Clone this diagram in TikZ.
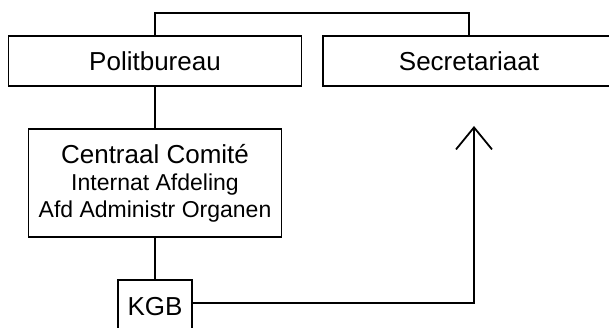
\documentclass[tikz,border=0pt]{standalone}
\usepackage{fontspec}
\setmainfont{Liberation Sans}
\usetikzlibrary{arrows.meta}
\begin{document}
\begin{tikzpicture}[x=1pt,y=-1pt,line width=1.8pt,
  orgbox/.style={draw=black,fill=white,inner sep=0pt,font=\fontsize{26}{30}\selectfont},
  conn/.style={draw=black,line width=1.8pt},
  openarrow/.style={-{Straight Barb[length=22pt,width=36pt,line width=1.8pt]}}]
\useasboundingbox (0,0) rectangle (609,328);
\node[orgbox,minimum width=293,minimum height=50] (pb) at (155,61) {Politbureau};
\node[orgbox,minimum width=292,minimum height=50] (sec) at (469,61) {Secretariaat};
\node[orgbox,minimum width=253,minimum height=108,align=center] (cc) at (155,183)
  {Centraal Comité\\[-3pt]{\fontsize{23}{27}\selectfont Internat Afdeling}\\[-3pt]{\fontsize{23}{27}\selectfont Afd Administr Organen}};
\node[orgbox,minimum width=74,minimum height=56,text depth=0pt] (kgb) at (155,308) {\raisebox{4pt}{KGB}};
\coordinate (tip) at (474,126);
\draw[conn] (pb.north) -- ++(0,-22) -| (sec.north);
\draw[conn] (pb.south) -- (cc.north);
\draw[conn] (cc.south) -- (kgb.north);
\draw[conn,openarrow] ([yshift=5pt]kgb.east) -| (tip);
\end{tikzpicture}
\end{document}
